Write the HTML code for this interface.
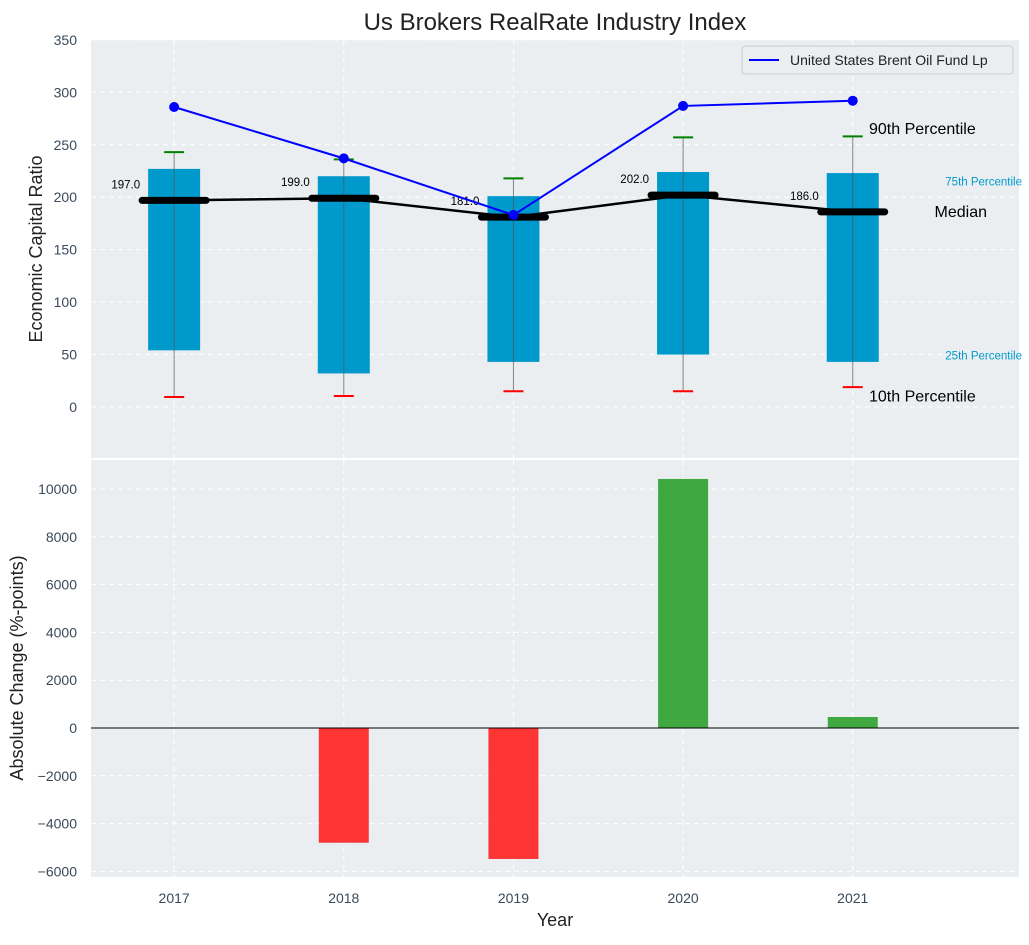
<!DOCTYPE html>
<html><head><meta charset="utf-8">
<style>
body{margin:0;background:#fff;font-family:"Liberation Sans",sans-serif;}
svg text{font-family:"Liberation Sans",sans-serif;}
</style></head>
<body>
<svg id="c" width="1029" height="940" xmlns="http://www.w3.org/2000/svg"></svg>
<script>
const years=['2017','2018','2019','2020','2021'];
const p10=[9.5,10.5,15,15,19];
const p25=[54,32,43,50,43];
const medians=[197,199,181,202,186];
const p75=[227,220,201,224,223];
const p90=[243,236,218,257,258];
const fundValues=[286,237,183,287,292];
const changes=[0,-4800,-5480,10420,460];
const topTicks=[0,50,100,150,200,250,300,350];
const botTicks=[-6000,-4000,-2000,0,2000,4000,6000,8000,10000];

const NS='http://www.w3.org/2000/svg';
const svg=document.getElementById('c');
function el(t,a,txt,parent){const e=document.createElementNS(NS,t);for(const k in a)e.setAttribute(k,a[k]);if(txt!==undefined)e.textContent=txt;(parent||svg).appendChild(e);return e;}
const L=91,R=1019;
const x=i=>L+(i+0.49)*(R-L)/5.47;
const yT=v=>407-v*1.049;
const yB=v=>728-v*0.0239;
const TC='#3a4a5a';

let t=el('text',{x:555,y:30,'text-anchor':'middle','font-size':24,fill:'#222'},'Us Brokers RealRate Industry Index');


let p=el('rect',{x:L,y:40,width:R-L,height:418,fill:'#eaeef0'});

p=el('rect',{x:L,y:460,width:R-L,height:417,fill:'#eaeef0'});


topTicks.forEach(v=>{
  el('line',{x1:L,x2:R,y1:yT(v),y2:yT(v),stroke:'#fff','stroke-dasharray':'5,4','stroke-width':1});
  let e=el('text',{x:L-14,y:yT(v)+5,'text-anchor':'end','font-size':14,fill:TC},String(v));
  
});
botTicks.forEach(v=>{
  el('line',{x1:L,x2:R,y1:yB(v),y2:yB(v),stroke:'#fff','stroke-dasharray':'5,4','stroke-width':1});
  let e=el('text',{x:L-14,y:yB(v)+5,'text-anchor':'end','font-size':14,fill:TC},v<0?'\u2212'+(-v):String(v));
  
});
years.forEach((yr,i)=>{
  el('line',{x1:x(i),x2:x(i),y1:40,y2:458,stroke:'#fff','stroke-dasharray':'5,4'});
  el('line',{x1:x(i),x2:x(i),y1:460,y2:877,stroke:'#fff','stroke-dasharray':'5,4'});
  let e=el('text',{x:x(i),y:903,'text-anchor':'middle','font-size':14,fill:TC},yr);
  
});

years.forEach((yr,i)=>{
  let b=el('rect',{x:x(i)-26,y:yT(p75[i]),width:52,height:yT(p25[i])-yT(p75[i]),fill:'#0099cc'});
  
  el('line',{x1:x(i),x2:x(i),y1:yT(p90[i]),y2:yT(p10[i]),stroke:'#555','stroke-width':1,opacity:0.7});
  let c=el('line',{x1:x(i)-10,x2:x(i)+10,y1:yT(p90[i]),y2:yT(p90[i]),stroke:'green','stroke-width':2});
  
  c=el('line',{x1:x(i)-10,x2:x(i)+10,y1:yT(p10[i]),y2:yT(p10[i]),stroke:'red','stroke-width':2});
  
});
let ml=el('polyline',{points:medians.map((v,i)=>x(i)+','+yT(v)).join(' '),fill:'none',stroke:'#000','stroke-width':2.5});

years.forEach((yr,i)=>{
  let m=el('line',{x1:x(i)-32,x2:x(i)+32,y1:yT(medians[i]),y2:yT(medians[i]),stroke:'#000','stroke-width':7,'stroke-linecap':'round'});
  
  let a=el('text',{x:x(i)-34,y:yT(medians[i])-12,'text-anchor':'end','font-size':11.5,fill:'#000'},medians[i].toFixed(1));
  
});
let fl=el('polyline',{points:fundValues.map((v,i)=>x(i)+','+yT(v)).join(' '),fill:'none',stroke:'blue','stroke-width':2});

fundValues.forEach((v,i)=>{
  let d=el('circle',{cx:x(i),cy:yT(v),r:5,fill:'blue'});
  
});
const li=4;
[['90th Percentile',p90[li]+7,16,'#000',869,'start'],['75th Percentile',p75[li]-7,11.5,'#0099cc',1022,'end'],['Median',medians[li],16,'#000',987,'end'],['25th Percentile',p25[li]+7,11.5,'#0099cc',1022,'end'],['10th Percentile',p10[li]-9,16,'#000',869,'start']].forEach(r=>{
  let e=el('text',{x:r[4],y:yT(r[1])+5,'text-anchor':r[5],'font-size':r[2],fill:r[3]},r[0]);
  
});
let lg=el('g',{});

el('rect',{x:742,y:46,width:271,height:28,fill:'#eaeef0',stroke:'#ccc',rx:3},undefined,lg);
el('line',{x1:749,x2:779,y1:60,y2:60,stroke:'blue','stroke-width':2},undefined,lg);
el('text',{x:790,y:65,'font-size':14,fill:'#222'},'United States Brent Oil Fund Lp',lg);

years.forEach((yr,i)=>{
  const v=changes[i];
  let b=el('rect',{x:x(i)-25,y:Math.min(yB(v),yB(0)),width:50,height:Math.abs(yB(v)-yB(0)),fill:v>=0?'#2ca02c':'#ff2020',opacity:0.9});
  
});
el('line',{x1:L,x2:R,y1:yB(0),y2:yB(0),stroke:'#000','stroke-width':1});

t=el('text',{x:0,y:0,transform:'translate(42,249) rotate(-90)','text-anchor':'middle','font-size':18,fill:'#222'},'Economic Capital Ratio');

t=el('text',{x:0,y:0,transform:'translate(23,668) rotate(-90)','text-anchor':'middle','font-size':18,fill:'#222'},'Absolute Change (%-points)');

t=el('text',{x:555,y:926,'text-anchor':'middle','font-size':18,fill:'#222'},'Year');

</script>
</body></html>
